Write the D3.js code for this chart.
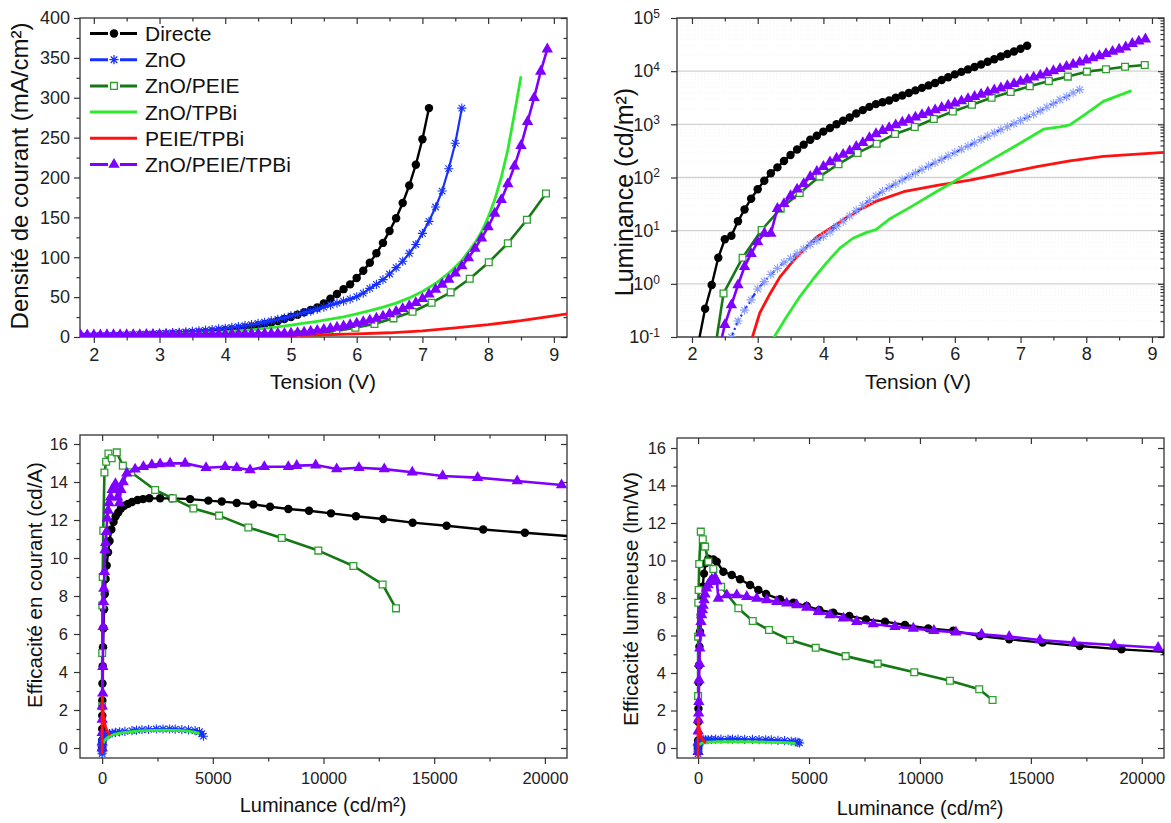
<!DOCTYPE html>
<html><head><meta charset="utf-8">
<script src="https://cdn.jsdelivr.net/npm/d3@7"></script>
<style>body{margin:0;background:#fff;} svg{display:block;font-family:"Liberation Sans",Arial,sans-serif;}</style>
</head><body>
<svg id="chart" width="1171" height="823"></svg>
<script>
// ---------------- DATA ----------------
const seriesNames = ["Directe","ZnO","ZnO/PEIE","ZnO/TPBi","PEIE/TPBi","ZnO/PEIE/TPBi"];

// Panel A: current density (mA/cm²) vs voltage (V)
const jv_directe = [[1.8,0.4],[1.9,0.45],[2.0,0.5],[2.1,0.6],[2.2,0.7],[2.3,0.8],[2.4,1.0],[2.5,1.2],[2.6,1.4],[2.7,1.6],[2.8,1.9],[2.9,2.2],[3.0,2.5],[3.1,2.9],[3.2,3.3],[3.3,3.7],[3.4,4.2],[3.5,4.7],[3.6,5.3],[3.7,6.0],[3.8,6.7],[3.9,7.5],[4.0,8.4],[4.1,9.4],[4.2,10.5],[4.3,11.7],[4.4,13.0],[4.5,14.5],[4.6,16.1],[4.7,18.0],[4.8,20.0],[4.9,22.5],[5.0,25],[5.1,28],[5.2,31],[5.3,34],[5.4,37],[5.5,42],[5.6,48],[5.7,54],[5.8,60],[5.9,66],[6.0,74],[6.1,83],[6.2,93],[6.3,105],[6.4,118],[6.5,133],[6.6,149],[6.7,168],[6.8,190],[6.9,216],[7.0,248],[7.1,287]];
const jv_zno = [[1.8,1.0],[1.9,1.2],[2.0,1.4],[2.1,1.6],[2.2,1.8],[2.3,2.0],[2.4,2.3],[2.5,2.6],[2.6,2.9],[2.7,3.2],[2.8,3.6],[2.9,4.0],[3.0,4.4],[3.1,4.9],[3.2,5.4],[3.3,5.9],[3.4,6.5],[3.5,7.1],[3.6,7.8],[3.7,8.5],[3.8,9.3],[3.9,10.1],[4.0,11.0],[4.1,12.0],[4.2,13.0],[4.3,14.2],[4.4,15.5],[4.5,17.0],[4.6,18.5],[4.7,20.2],[4.8,22.0],[4.9,24.0],[5.0,26.5],[5.1,28.5],[5.2,30.5],[5.3,32.5],[5.4,35],[5.5,37.5],[5.6,40],[5.7,42.5],[5.8,45],[5.9,47.5],[6.0,50.5],[6.1,55],[6.2,61],[6.3,66],[6.4,72],[6.5,79],[6.6,87],[6.7,95],[6.8,105],[6.9,116],[7.0,130],[7.1,145],[7.2,163],[7.3,183],[7.4,211],[7.5,243],[7.6,287]];
const jv_znopeie = [[1.92,0.05],[2.21,0.08],[2.50,0.12],[2.79,0.18],[3.08,0.25],[3.37,0.35],[3.66,0.5],[3.95,0.7],[4.24,1.0],[4.53,1.5],[4.82,2.2],[5.11,3.3],[5.40,5.0],[5.69,7.5],[5.98,11.7],[6.27,16.3],[6.56,23.4],[6.85,31.7],[7.14,43],[7.43,56],[7.72,73],[8.01,93.7],[8.30,117.5],[8.59,147],[8.88,180]];
const jv_znotpbi = [[1.8,1.2],[2.0,1.5],[2.2,1.8],[2.4,2.1],[2.6,2.5],[2.8,2.9],[3.0,3.3],[3.2,3.8],[3.4,4.3],[3.6,4.9],[3.8,5.6],[4.0,6.5],[4.2,7.6],[4.4,9.0],[4.6,10.7],[4.8,12.7],[5.0,15],[5.2,17.3],[5.4,19.7],[5.6,22.3],[5.8,25.3],[6.0,29],[6.2,33],[6.4,37.5],[6.6,42.5],[6.8,49],[7.0,57],[7.2,67],[7.4,80],[7.6,96],[7.8,118],[7.9,132],[8.0,150],[8.1,172],[8.2,200],[8.3,235],[8.4,280],[8.5,327]];
const jv_peietpbi = [[1.8,0.0],[3.0,0.1],[3.5,0.2],[4.0,0.5],[4.5,1.0],[5.0,1.8],[5.5,2.8],[6.0,3.8],[6.5,5.3],[7.0,7.8],[7.5,11.5],[8.0,15.5],[8.5,20.5],[9.0,26.5],[9.25,29.5]];
const jv_triple = [[1.8,2.4],[1.9,2.4],[2.0,2.5],[2.1,2.5],[2.2,2.6],[2.3,2.6],[2.4,2.7],[2.5,2.7],[2.6,2.8],[2.7,2.8],[2.8,2.9],[2.9,2.9],[3.0,3.0],[3.1,3.0],[3.2,3.1],[3.3,3.1],[3.4,3.2],[3.5,3.2],[3.6,3.3],[3.7,3.3],[3.8,3.4],[3.9,3.4],[4.0,3.5],[4.1,3.6],[4.2,3.7],[4.3,3.8],[4.4,3.9],[4.5,4.0],[4.6,4.1],[4.7,4.2],[4.8,4.3],[4.9,4.4],[5.0,4.6],[5.1,5.2],[5.2,6.0],[5.3,7.0],[5.4,8.2],[5.5,9.3],[5.6,10.6],[5.7,12.0],[5.8,13.6],[5.9,15.3],[6.0,17.1],[6.1,19],[6.2,21],[6.3,23.3],[6.4,26],[6.5,28.8],[6.6,32],[6.7,35.5],[6.8,39],[6.9,43],[7.0,48],[7.1,53.5],[7.2,59.5],[7.3,66],[7.4,72],[7.5,80],[7.6,89],[7.7,99],[7.8,111],[7.9,124],[8.0,138],[8.1,155],[8.2,172],[8.3,192],[8.4,214],[8.5,240],[8.6,270],[8.7,300],[8.8,333],[8.9,361]];

// Panel B: luminance (cd/m²) vs voltage (V)
const lv_directe = [[2.1,0.08],[2.2,0.34],[2.3,0.95],[2.4,3.1],[2.5,6.9],[2.6,8.0],[2.7,15],[2.8,25],[2.9,40],[3.0,60],[3.1,87],[3.2,120],[3.3,155],[3.4,205],[3.5,265],[3.6,335],[3.7,415],[3.8,515],[3.9,610],[4.0,730],[4.1,850],[4.2,1000],[4.3,1170],[4.4,1350],[4.5,1600],[4.6,1850],[4.7,2130],[4.8,2400],[4.9,2600],[5.0,2800],[5.1,3150],[5.2,3500],[5.3,3900],[5.4,4350],[5.5,4850],[5.6,5400],[5.7,6000],[5.8,6800],[5.9,7700],[6.0,8700],[6.1,9700],[6.2,10800],[6.3,12000],[6.4,13400],[6.5,15000],[6.6,16800],[6.7,18800],[6.8,21000],[6.9,23500],[7.0,26500],[7.1,30000]];
const lv_zno = [[2.5,0.05],[2.6,0.1],[2.7,0.2],[2.8,0.32],[2.9,0.5],[3.0,0.8],[3.1,1.1],[3.2,1.5],[3.3,1.95],[3.4,2.5],[3.5,3.0],[3.6,3.7],[3.7,4.5],[3.8,5.5],[3.9,6.5],[4.0,7.8],[4.1,9.5],[4.2,12],[4.3,15],[4.4,19],[4.5,24],[4.6,30],[4.7,37],[4.8,45],[4.9,55],[5.0,65],[5.1,76],[5.2,90],[5.3,105],[5.4,122],[5.5,142],[5.6,165],[5.7,190],[5.8,220],[5.9,255],[6.0,295],[6.1,340],[6.2,390],[6.3,450],[6.4,520],[6.5,600],[6.6,690],[6.7,790],[6.8,900],[6.9,1030],[7.0,1180],[7.1,1350],[7.2,1550],[7.3,1800],[7.4,2100],[7.5,2450],[7.6,2900],[7.7,3300],[7.8,3900],[7.9,4500]];
const lv_znopeie = [[2.19,0.003],[2.48,0.66],[2.77,3.1],[3.06,10.3],[3.35,26],[3.64,51],[3.94,104],[4.23,178],[4.52,290],[4.81,432],[5.09,660],[5.39,890],[5.68,1260],[5.97,1740],[6.26,2340],[6.56,3160],[6.85,4070],[7.14,5200],[7.43,6500],[7.72,7900],[8.01,9800],[8.30,10900],[8.59,12100],[8.89,13100]];
const lv_znotpbi = [[3.2,0.07],[3.25,0.1],[3.44,0.24],[3.64,0.57],[3.85,1.26],[4.05,2.5],[4.25,4.7],[4.45,7.2],[4.66,9.3],[4.8,10.5],[5.02,17],[5.33,28],[5.73,55],[5.93,76],[6.14,109],[6.54,210],[6.94,405],[7.35,810],[7.6,900],[7.75,980],[8.01,1630],[8.26,2700],[8.69,4300]];
const lv_peietpbi = [[2.9,0.08],[2.92,0.1],[3.03,0.28],[3.19,0.66],[3.34,1.35],[3.54,2.7],[3.74,4.9],[3.90,7.6],[4.05,10],[4.30,16],[4.56,25],[4.81,36],[5.22,54],[5.73,71],[6.23,89],[6.74,120],[7.25,160],[7.75,205],[8.26,250],[9.25,300]];
const lv_triple = [[2.4,0.05],[2.5,0.17],[2.6,0.40],[2.7,0.95],[2.8,2.1],[2.9,3.7],[3.0,6.1],[3.1,8.9],[3.2,8.9],[3.3,26],[3.4,32],[3.5,45],[3.6,60],[3.7,76],[3.8,104],[3.9,130],[4.0,160],[4.1,195],[4.2,230],[4.3,270],[4.4,315],[4.5,380],[4.6,450],[4.7,560],[4.8,660],[4.9,760],[5.0,860],[5.1,970],[5.2,1090],[5.3,1220],[5.4,1360],[5.5,1510],[5.6,1680],[5.7,1860],[5.8,2060],[5.9,2270],[6.0,2500],[6.1,2750],[6.2,3020],[6.3,3320],[6.4,3650],[6.5,4000],[6.6,4400],[6.7,4800],[6.8,5300],[6.9,5800],[7.0,6400],[7.1,7000],[7.2,7700],[7.3,8400],[7.4,9200],[7.5,10100],[7.6,11100],[7.7,12200],[7.8,13400],[7.9,14700],[8.0,16100],[8.1,17700],[8.2,19400],[8.3,21300],[8.4,23400],[8.5,25700],[8.6,28300],[8.7,33000],[8.8,36500],[8.9,40000]];

// Panel C: current efficiency (cd/A) vs luminance (cd/m²)
const ce_directe = [[0,0.0],[1,0.4],[3,1.0],[7,1.7],[8,2.5],[15,3.4],[25,4.3],[40,5.3],[60,6.3],[87,7.3],[120,8.1],[155,8.9],[205,9.6],[265,10.3],[335,10.9],[415,11.5],[515,11.9],[610,12.2],[730,12.4],[850,12.6],[1000,12.75],[1170,12.85],[1350,12.95],[1600,13.05],[1850,13.1],[2130,13.14],[2619,13.14],[3146,13.14],[3973,13.1],[4800,13.02],[5404,12.97],[6081,12.9],[6830,12.82],[7585,12.7],[8411,12.58],[9346,12.49],[10339,12.35],[11467,12.2],[12700,12.05],[14026,11.86],[15560,11.7],[17215,11.5],[19097,11.33],[21200,11.14]];
const ce_zno = [[0.05,-0.3],[0.2,-0.2],[0.5,-0.1],[1.1,0.0],[2.5,0.1],[5.5,0.2],[12,0.3],[24,0.4],[45,0.5],[76,0.57],[122,0.63],[190,0.68],[255,0.72],[340,0.76],[450,0.79],[600,0.82],[790,0.85],[1030,0.88],[1350,0.92],[1550,0.94],[1800,0.96],[2100,0.98],[2450,1.0],[2750,1.0],[3050,1.0],[3300,0.99],[3600,0.97],[3900,0.95],[4200,0.91],[4400,0.86],[4500,0.75],[4575,0.62]];
const ce_znopeie = [[0.7,2.2],[3,5.0],[10,7.5],[26,9.0],[51,11.44],[104,14.5],[181,15.07],[284,15.5],[432,15.25],[664,15.56],[935,14.86],[1309,14.51],[2393,13.58],[3192,13.14],[4122,12.61],[5282,12.23],[6605,11.61],[8113,11.05],[9767,10.39],[11350,9.58],[12670,8.61],[13273,7.35]];
const ce_znotpbi = [[50,0.25],[80,0.35],[150,0.45],[300,0.6],[500,0.7],[800,0.78],[1200,0.85],[1700,0.9],[2300,0.93],[2800,0.94],[3300,0.93],[3800,0.9],[4100,0.85],[4300,0.8],[4400,0.75]];
const ce_peietpbi = [[0.1,-0.3],[0.3,0.5],[0.7,1.2],[1.4,1.8],[3,2.3],[5,2.6],[8,2.7],[10,2.6],[16,2.4],[25,2.2],[36,2.0],[54,1.8],[71,1.6],[89,1.45],[120,1.3],[160,1.1],[205,0.95],[250,0.85],[300,0.75],[360,0.68]];
const ce_triple = [[0.2,0.0],[0.4,0.3],[1,0.8],[2,1.5],[4,2.2],[26,2.88],[32,4.28],[45,6.38],[60,7.7],[76,8.4],[104,9.28],[130,10.42],[160,10.8],[195,11.38],[230,12.09],[270,12.5],[315,12.9],[380,13.2],[450,13.6],[540,13.75],[600,13.9],[700,13.2],[780,12.9],[850,13.6],[950,14.0],[1115,14.46],[1490,14.67],[1865,14.8],[2244,14.9],[2619,14.95],[3070,14.98],[3747,14.98],[4695,14.75],[5553,14.8],[6081,14.75],[6682,14.63],[7327,14.8],[8411,14.8],[8790,14.86],[9648,14.89],[10596,14.68],[11603,14.75],[12745,14.68],[14009,14.51],[15381,14.32],[16962,14.23],[18750,14.05],[20754,13.84]];

// Panel D: power efficiency (lm/W) vs luminance (cd/m²)
const pe_directe = [[0,0],[3,0.4],[8,1.4],[15,2.1],[25,3.5],[40,4.4],[60,5.4],[87,6.2],[120,7.1],[155,7.9],[205,8.6],[265,9.3],[335,9.85],[464,10.1],[689,10.06],[842,9.94],[1140,9.4],[1517,9.23],[1892,9.0],[2342,8.69],[2717,8.43],[3063,8.21],[3694,7.93],[4294,7.75],[4896,7.57],[5464,7.36],[6095,7.22],[6816,7.04],[7568,6.86],[8423,6.74],[9324,6.56],[10374,6.38],[11500,6.26],[12703,5.97],[14023,5.8],[15527,5.62],[17207,5.44],[19085,5.26],[21100,5.12]];
const pe_zno = [[0.05,-0.3],[0.2,-0.2],[0.5,-0.1],[1.1,0.0],[2.5,0.08],[5.5,0.15],[12,0.22],[24,0.28],[45,0.33],[76,0.37],[122,0.4],[190,0.42],[255,0.43],[340,0.44],[450,0.45],[600,0.46],[790,0.47],[1030,0.47],[1350,0.47],[1550,0.47],[1800,0.47],[2100,0.46],[2450,0.46],[2750,0.45],[3050,0.44],[3300,0.43],[3600,0.41],[3900,0.39],[4200,0.36],[4400,0.33],[4500,0.3],[4575,0.27]];
const pe_znopeie = [[0.7,2.77],[3,5.94],[10,7.75],[26,8.43],[51,9.81],[122,11.54],[211,11.13],[315,10.74],[464,9.94],[689,9.55],[1036,8.6],[1815,7.45],[2464,6.77],[3198,6.29],[4144,5.76],[5302,5.35],[6653,4.9],[8095,4.5],[9745,4.04],[11351,3.59],[12671,3.13],[13273,2.56]];
const pe_znotpbi = [[50,0.15],[100,0.22],[200,0.28],[400,0.31],[800,0.33],[1500,0.34],[2500,0.33],[3500,0.3],[4000,0.28],[4400,0.25]];
const pe_peietpbi = [[0.1,-0.5],[0.3,0.2],[0.7,0.6],[1.4,0.9],[3,1.2],[5,1.4],[8,1.55],[10,1.58],[16,1.5],[25,1.35],[36,1.2],[54,1.05],[71,0.9],[89,0.8],[120,0.68],[160,0.55],[205,0.45],[250,0.38],[300,0.32],[360,0.27]];
const pe_triple = [[0.2,-0.2],[1,0.3],[4,0.9],[9,1.5],[26,1.85],[32,2.47],[45,3.63],[60,4.5],[76,5.32],[104,6.12],[130,6.74],[160,7.1],[195,7.36],[230,7.6],[270,7.89],[315,8.2],[380,8.52],[450,8.7],[540,8.87],[620,9.0],[766,9.05],[842,8.9],[914,7.98],[1293,8.16],[1743,8.16],[2194,8.07],[2644,7.98],[3095,7.89],[3545,7.8],[3995,7.72],[4446,7.63],[4896,7.5],[5419,7.27],[5946,7.09],[6545,6.92],[7149,6.74],[7896,6.61],[8874,6.47],[9700,6.38],[10631,6.26],[11622,6.17],[12779,6.06],[14023,5.94],[15405,5.76],[16937,5.62],[18752,5.49],[20734,5.35]];

// Tick values
const voltTicks = [2,3,4,5,6,7,8,9];
const voltMinor = [2.5,3.5,4.5,5.5,6.5,7.5,8.5];
const jTicks = [0,50,100,150,200,250,300,350,400];
const jMinor = [25,75,125,175,225,275,325,375];
const lumLogTicks = [0.1,1,10,100,1000,10000,100000];
const lumLogExp = ["-1","0","1","2","3","4","5"];
const lumTicks = [0,5000,10000,15000,20000];
const lumMinor = [2500,7500,12500,17500];
const effTicks = [0,2,4,6,8,10,12,14,16];
const effMinor = [1,3,5,7,9,11,13,15];

// ---------------- STYLE ----------------
const style = {
  "Directe":      {line:"#000000", marker:"circle",   fill:"#000000", stroke:"none", lw:2.4},
  "ZnO":          {line:"#1530ff", marker:"star",     fill:"none", stroke:"#1530ff", lw:2.2},
  "ZnO/PEIE":     {line:"#157815", marker:"square",   fill:"#ffffff", stroke:"#2f9f2f", lw:2.6},
  "ZnO/TPBi":     {line:"#2eea2e", marker:null, lw:2.8},
  "PEIE/TPBi":    {line:"#ff1111", marker:null, lw:2.8},
  "ZnO/PEIE/TPBi":{line:"#7f00ff", marker:"triangle", fill:"#7f00ff", stroke:"none", lw:2.6}
};

const svg = d3.select("#chart");
const FONT = '"Liberation Sans", Arial, sans-serif';

function markerPath(type) {
  if (type === "circle") return d3.symbol(d3.symbolCircle, 56)();
  if (type === "square") return d3.symbol(d3.symbolSquare, 46)();
  if (type === "triangle") return d3.symbol(d3.symbolTriangle, 56)();
  if (type === "star") {
    const r = 4.6, a = r * 0.707;
    return `M0,${-r}L0,${r}M${-r},0L${r},0M${-a},${-a}L${a},${a}M${-a},${a}L${a},${-a}`;
  }
  return null;
}

function drawSeries(g, data, x, y, name, opts = {}) {
  const st = style[name];
  const line = d3.line().x(d => x(d[0])).y(d => y(d[1]));
  const p = g.append("path").datum(data).attr("d", line)
    .attr("fill", "none").attr("stroke", opts.lineColor || st.line)
    .attr("stroke-width", st.lw).attr("stroke-linejoin", "round");
  if (opts.dash) p.attr("stroke-dasharray", opts.dash);
  if (st.marker) {
    const mp = markerPath(st.marker);
    g.append("g").selectAll("path").data(data).join("path")
      .attr("d", mp)
      .attr("transform", d => `translate(${x(d[0])},${y(d[1])})`)
      .attr("fill", st.fill)
      .attr("stroke", opts.markerStroke || st.stroke)
      .attr("stroke-width", st.marker === "star" ? 1.1 : 1.3);
  }
}

function styleAxis(sel, fs) {
  sel.select(".domain").remove();
  sel.selectAll("line").attr("stroke", "#333").attr("stroke-width", 1.2);
  sel.selectAll("text").attr("fill", "#222").style("font-size", fs + "px").style("font-family", FONT);
}

function panelFrame(id, p, x, y, cfg) {
  const g = svg.append("g");
  const clipId = "clip" + id;
  svg.append("clipPath").attr("id", clipId).append("rect")
    .attr("x", p.x0).attr("y", p.y0).attr("width", p.x1 - p.x0).attr("height", p.y1 - p.y0);
  const fs = cfg.fs;
  g.append("g").attr("transform", `translate(0,${p.y1})`)
    .call(d3.axisBottom(x).tickValues(cfg.xMajor).tickSize(6).tickPadding(cfg.xPad).tickFormat(cfg.xFmt))
    .call(s => styleAxis(s, fs));
  g.append("g").attr("transform", `translate(0,${p.y1})`)
    .call(d3.axisBottom(x).tickValues(cfg.xMinor).tickSize(3.5).tickFormat(""))
    .call(s => styleAxis(s, fs));
  g.append("g").attr("transform", `translate(0,${p.y0})`)
    .call(d3.axisTop(x).tickValues(cfg.xMajor).tickSize(-6).tickFormat(""))
    .call(s => styleAxis(s, fs));
  g.append("g").attr("transform", `translate(0,${p.y0})`)
    .call(d3.axisTop(x).tickValues(cfg.xMinor).tickSize(-3.5).tickFormat(""))
    .call(s => styleAxis(s, fs));
  const yl = g.append("g").attr("transform", `translate(${p.x0},0)`)
    .call(d3.axisLeft(y).tickValues(cfg.yMajor).tickSize(6).tickPadding(cfg.yPad).tickFormat(cfg.yFmt || ""))
    .call(s => styleAxis(s, fs));
  g.append("g").attr("transform", `translate(${p.x0},0)`)
    .call(d3.axisLeft(y).tickValues(cfg.yMinorLeft || cfg.yMinor).tickSize(3.5).tickFormat(""))
    .call(s => styleAxis(s, fs));
  g.append("g").attr("transform", `translate(${p.x1},0)`)
    .call(d3.axisRight(y).tickValues(cfg.yMajor).tickSize(-6).tickFormat(""))
    .call(s => styleAxis(s, fs));
  g.append("g").attr("transform", `translate(${p.x1},0)`)
    .call(d3.axisRight(y).tickValues(cfg.yMinor).tickSize(-3.5).tickFormat(""))
    .call(s => styleAxis(s, fs));
  if (cfg.logLabels) {
    yl.selectAll(".tick text").each(function(d, i) {
      const t = d3.select(this).text("10");
      t.attr("dx", "-0.45em");
      t.append("tspan").text(lumLogExp[i]).attr("dy", "-0.55em").style("font-size", "12px");
    });
  }
  g.append("rect").attr("x", p.x0).attr("y", p.y0).attr("width", p.x1 - p.x0).attr("height", p.y1 - p.y0)
    .attr("fill", "none").attr("stroke", "#333").attr("stroke-width", 1.3);
  svg.append("text").attr("x", cfg.xt[0]).attr("y", cfg.xt[1]).attr("text-anchor", "middle")
    .style("font-size", cfg.xtfs + "px").style("font-family", FONT).attr("fill", "#111").text(cfg.xTitle);
  svg.append("text").attr("transform", `translate(${cfg.yt[0]},${cfg.yt[1]}) rotate(-90)`).attr("text-anchor", "middle")
    .style("font-size", cfg.ytfs + "px").style("font-family", FONT).attr("fill", "#111").text(cfg.yTitle);
  return svg.append("g").attr("clip-path", `url(#${clipId})`);
}

// ---------------- PANEL A ----------------
{
  const p = {x0:80, x1:567, y0:18, y1:337};
  const x = d3.scaleLinear().domain([1.79, 9.2]).range([p.x0, p.x1]);
  const y = d3.scaleLinear().domain([0, 400]).range([p.y1, p.y0]);
  const plot = panelFrame("A", p, x, y, {
    fs:18, xMajor:voltTicks, xMinor:voltMinor, xFmt:d3.format("d"), xPad:5,
    yMajor:jTicks, yMinor:jMinor, yFmt:d3.format("d"), yPad:4,
    xTitle:"Tension (V)", xt:[323,389], xtfs:21,
    yTitle:"Densité de courant (mA/cm²)", yt:[28,176], ytfs:24
  });
  drawSeries(plot, jv_directe, x, y, "Directe");
  drawSeries(plot, jv_zno, x, y, "ZnO");
  drawSeries(plot, jv_znopeie, x, y, "ZnO/PEIE");
  drawSeries(plot, jv_znotpbi, x, y, "ZnO/TPBi");
  drawSeries(plot, jv_peietpbi, x, y, "PEIE/TPBi");
  drawSeries(plot, jv_triple, x, y, "ZnO/PEIE/TPBi");

  const lg = svg.append("g");
  seriesNames.forEach((n, i) => {
    const st = style[n];
    const cy = 33.5 + i * 26.2;
    lg.append("line").attr("x1", 90).attr("x2", 137).attr("y1", cy).attr("y2", cy)
      .attr("stroke", st.line).attr("stroke-width", 3);
    if (st.marker) {
      lg.append("rect").attr("x", 108).attr("y", cy - 6).attr("width", 12).attr("height", 12).attr("fill", "#fff");
      lg.append("path").attr("d", markerPath(st.marker)).attr("transform", `translate(114,${cy})`)
        .attr("fill", st.fill).attr("stroke", st.stroke).attr("stroke-width", 1.3);
    }
    lg.append("text").attr("x", 145).attr("y", cy + 7.5).style("font-size", "21px").style("font-family", FONT)
      .attr("fill", "#111").text(n);
  });
}

// ---------------- PANEL B ----------------
{
  const p = {x0:677, x1:1164, y0:18, y1:337};
  const x = d3.scaleLinear().domain([1.772, 9.183]).range([p.x0, p.x1]);
  const y = d3.scaleLog().domain([0.1, 100000]).range([p.y1, p.y0]);
  const minor = [];
  lumLogTicks.slice(0, -1).forEach(b => [2,3,4,5,6,7,8,9].forEach(k => minor.push(b * k)));
  const grid = svg.append("g");
  grid.selectAll("line.mn").data(minor).join("line")
    .attr("x1", p.x0).attr("x2", p.x1).attr("y1", d => y(d)).attr("y2", d => y(d))
    .attr("stroke", "#ececec").attr("stroke-width", 0.7).attr("stroke-dasharray", "1,2");
  grid.selectAll("line.mj").data(lumLogTicks).join("line")
    .attr("x1", p.x0).attr("x2", p.x1).attr("y1", d => y(d)).attr("y2", d => y(d))
    .attr("stroke", "#d2d2d2").attr("stroke-width", 1.3);
  const plot = panelFrame("B", p, x, y, {
    fs:18, xMajor:voltTicks, xMinor:voltMinor, xFmt:d3.format("d"), xPad:4,
    yMajor:lumLogTicks, yMinor:minor, yMinorLeft:[], yFmt:d => "10", yPad:3, logLabels:true,
    xTitle:"Tension (V)", xt:[918,389], xtfs:21,
    yTitle:"Luminance (cd/m²)", yt:[633,192], ytfs:25
  });
  drawSeries(plot, lv_peietpbi, x, y, "PEIE/TPBi");
  drawSeries(plot, lv_znotpbi, x, y, "ZnO/TPBi");
  drawSeries(plot, lv_zno, x, y, "ZnO", {dash:"7,3,2,3", markerStroke:"#8da0ff"});
  drawSeries(plot, lv_znopeie, x, y, "ZnO/PEIE");
  drawSeries(plot, lv_triple, x, y, "ZnO/PEIE/TPBi");
  drawSeries(plot, lv_directe, x, y, "Directe");
}

// ---------------- PANEL C ----------------
{
  const p = {x0:80, x1:567, y0:435, y1:758};
  const x = d3.scaleLinear().domain([-1000, 21000]).range([p.x0, p.x1]);
  const y = d3.scaleLinear().domain([-0.526, 16.474]).range([p.y1, p.y0]);
  const plot = panelFrame("C", p, x, y, {
    fs:16.5, xMajor:lumTicks, xMinor:lumMinor, xFmt:d3.format("d"), xPad:8,
    yMajor:effTicks, yMinor:effMinor, yFmt:d3.format("d"), yPad:6,
    xTitle:"Luminance (cd/m²)", xt:[323,812], xtfs:20,
    yTitle:"Efficacité en courant (cd/A)", yt:[42,585], ytfs:20.5
  });
  drawSeries(plot, ce_directe, x, y, "Directe");
  drawSeries(plot, ce_znopeie, x, y, "ZnO/PEIE");
  drawSeries(plot, ce_triple, x, y, "ZnO/PEIE/TPBi");
  drawSeries(plot, ce_zno, x, y, "ZnO");
  drawSeries(plot, ce_znotpbi, x, y, "ZnO/TPBi");
  drawSeries(plot, ce_peietpbi, x, y, "PEIE/TPBi");
}

// ---------------- PANEL D ----------------
{
  const p = {x0:677, x1:1164, y0:438, y1:758};
  const x = d3.scaleLinear().domain([-950, 21000]).range([p.x0, p.x1]);
  const y = d3.scaleLinear().domain([-0.533, 16.533]).range([p.y1, p.y0]);
  const plot = panelFrame("D", p, x, y, {
    fs:16.5, xMajor:lumTicks, xMinor:lumMinor, xFmt:d3.format("d"), xPad:8,
    yMajor:effTicks, yMinor:effMinor, yFmt:d3.format("d"), yPad:5,
    xTitle:"Luminance (cd/m²)", xt:[920,815], xtfs:20,
    yTitle:"Efficacité lumineuse (lm/W)", yt:[638,599], ytfs:21
  });
  drawSeries(plot, pe_directe, x, y, "Directe");
  drawSeries(plot, pe_znopeie, x, y, "ZnO/PEIE");
  drawSeries(plot, pe_triple, x, y, "ZnO/PEIE/TPBi");
  drawSeries(plot, pe_zno, x, y, "ZnO");
  drawSeries(plot, pe_znotpbi, x, y, "ZnO/TPBi");
  drawSeries(plot, pe_peietpbi, x, y, "PEIE/TPBi");
}
</script>
</body></html>
